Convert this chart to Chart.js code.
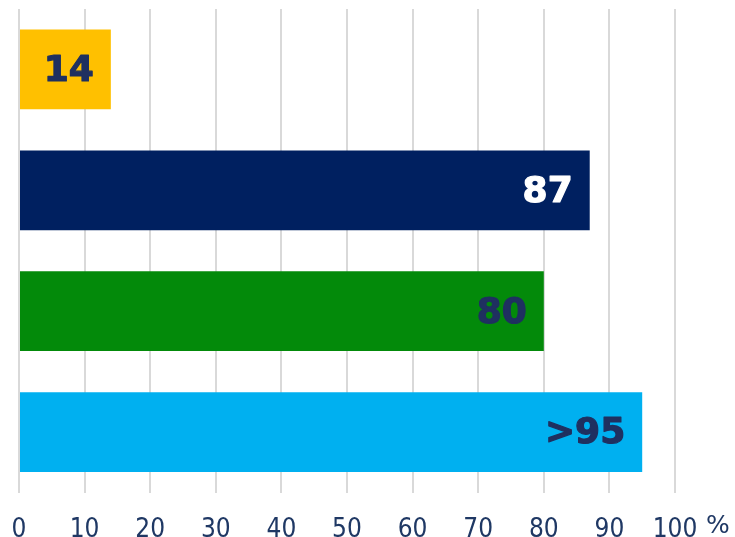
<!DOCTYPE html>
<html>
<head>
<meta charset="utf-8">
<script src="https://cdn.jsdelivr.net/npm/chart.js@4.4.1/dist/chart.umd.min.js"></script>
<style>
  html, body { margin: 0; padding: 0; background: #fff; overflow: hidden; }
</style>
</head>
<body>
<canvas id="barChart" width="735" height="537"></canvas>
<script>
const categories = ['A', 'B', 'C', 'D'];
const values = [14, 87, 80, 95];
const valueLabels = ['14', '87', '80', '>95'];
const barColors = ['#FFC000', '#002060', '#038A0A', '#00B0F0'];
const labelColors = ['#1F3060', '#FFFFFF', '#1F3060', '#1F3060'];
const xTicks = [0, 10, 20, 30, 40, 50, 60, 70, 80, 90, 100];

const tickColor = '#1F3864';
const fontFamily = '"DejaVu Sans Condensed", "DejaVu Sans", Verdana, sans-serif';

// value labels drawn inside the bar end
const barLabels = {
    id: 'barLabels',
    afterDatasetsDraw(chart) {
        const ctx = chart.ctx;
        const meta = chart.getDatasetMeta(0);
        ctx.save();
        ctx.font = 'bold 36px "DejaVu Sans", Verdana, sans-serif';
        ctx.textAlign = 'right';
        ctx.textBaseline = 'middle';
        ctx.lineWidth = 1.2;
        ctx.lineJoin = 'round';
        meta.data.forEach((bar, i) => {
            ctx.fillStyle = labelColors[i];
            ctx.strokeStyle = labelColors[i];
            ctx.fillText(valueLabels[i], bar.x - 17, bar.y + 2);
            ctx.strokeText(valueLabels[i], bar.x - 17, bar.y + 2);
        });
        ctx.restore();
    }
};

// "%" unit next to the last tick
const unitLabel = {
    id: 'unitLabel',
    afterDraw(chart) {
        const ctx = chart.ctx;
        const x = chart.scales.x.getPixelForValue(100);
        ctx.save();
        ctx.font = '25px "DejaVu Sans", Verdana, sans-serif';
        ctx.fillStyle = tickColor;
        ctx.textAlign = 'left';
        ctx.textBaseline = 'alphabetic';
        ctx.fillText('%', x + 31, 533);
        ctx.restore();
    }
};

new Chart(document.getElementById('barChart').getContext('2d'), {
    type: 'bar',
    data: {
        labels: categories,
        datasets: [{
            data: values,
            backgroundColor: barColors,
            borderWidth: 0,
            barPercentage: 0.66,
            categoryPercentage: 1
        }]
    },
    options: {
        indexAxis: 'y',
        responsive: false,
        animation: false,
        layout: { padding: { top: 9, left: 19, right: 60, bottom: 0 } },
        scales: {
            x: {
                min: 0,
                max: 100,
                afterBuildTicks: (axis) => { axis.ticks = xTicks.map(v => ({ value: v })); },
                afterFit: (axis) => {
                    axis.paddingLeft = 0;
                    axis.paddingRight = 0;
                    axis.height = 44.5;
                },
                grid: { color: '#D9D9D9', lineWidth: 2, drawTicks: false },
                border: { display: false },
                ticks: {
                    color: tickColor,
                    padding: 22,
                    maxRotation: 0,
                    font: { family: fontFamily, size: 26 }
                }
            },
            y: {
                display: false
            }
        },
        plugins: {
            legend: { display: false },
            tooltip: { enabled: false }
        }
    },
    plugins: [barLabels, unitLabel]
});
</script>
</body>
</html>
